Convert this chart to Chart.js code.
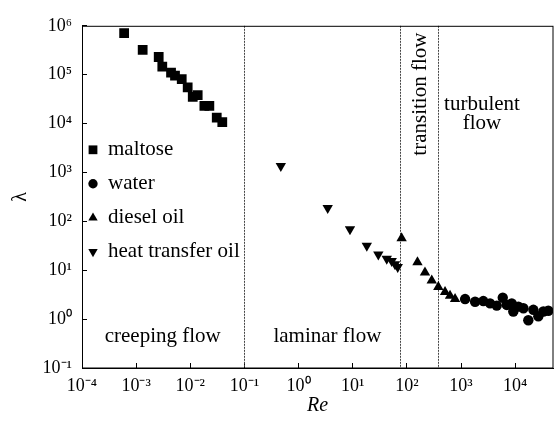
<!DOCTYPE html>
<html>
<head>
<meta charset="utf-8">
<script src="https://cdn.jsdelivr.net/npm/chart.js@4.4.1/dist/chart.umd.min.js"></script>
<style>
  body { margin: 0; background: #fff; }
  #wrap { width: 560px; height: 422px; }
</style>
</head>
<body>
<div id="wrap"><canvas id="myChart"></canvas></div>
<script>
// Re / lambda pairs
const maltoseRe = [6.0e-4, 1.32e-3, 2.61e-3, 3.04e-3, 4.41e-3, 5.22e-3, 6.95e-3, 8.95e-3, 1.11e-2, 1.37e-2, 1.82e-2, 2.25e-2, 3.08e-2, 3.9e-2];
const maltoseLambda = [7.1e5, 3.2e5, 2.3e5, 1.47e5, 1.1e5, 9.6e4, 8.1e4, 5.5e4, 3.5e4, 3.8e4, 2.3e4, 2.3e4, 1.33e4, 1.07e4];

const waterRe = [1190, 1820, 2580, 3440, 4570, 5900, 7000, 8650, 9250, 11500, 14200, 17500, 21700, 26800, 33200, 41000];
const waterLambda = [2.57, 2.27, 2.34, 2.10, 1.89, 2.73, 1.95, 2.10, 1.43, 1.80, 1.67, 0.95, 1.55, 1.14, 1.43, 1.48];

const dieselRe = [80, 157, 216, 288, 381, 507, 627, 776];
const dieselLambda = [44.9, 14.6, 9.0, 6.15, 4.52, 3.59, 2.99, 2.57];

const heatOilRe = [0.47, 3.45, 8.9, 18.2, 29.7, 42.5, 52.5, 60.4, 67.8];
const heatOilLambda = [1360, 187, 69, 31.6, 20.9, 17.1, 15.4, 13.2, 11.7];

const xTicks = [1e-4, 1e-3, 1e-2, 1e-1, 1, 10, 100, 1000, 1e4];
const yTicks = [1e-1, 1, 10, 100, 1000, 1e4, 1e5, 1e6];

// flow regime borders (Re) and their labels
const regimeBounds = [0.1, 76, 381];
const regimeLabels = [
  {text: 'creeping flow', x: 3.1e-3, y: 0.34},
  {text: 'laminar flow', x: 3.4, y: 0.34},
  {text: 'transition flow', x: 175, y: 4.0e4, rotate: true},
  {text: 'turbulent', x: 2440, y: 1.93e4},
  {text: 'flow', x: 2440, y: 7.8e3}
];

const supDigits = {'-': '\u207B', '0': '\u2070', '1': '\u00B9', '2': '\u00B2', '3': '\u00B3',
  '4': '\u2074', '5': '\u2075', '6': '\u2076', '7': '\u2077', '8': '\u2078', '9': '\u2079'};

function powLabel(v) {
  const e = String(Math.round(Math.log10(v)));
  return '10' + e.split('').map(c => supDigits[c]).join('');
}

function toPoints(xs, ys) {
  return xs.map((x, i) => ({x: x, y: ys[i]}));
}

const FONT = '"Liberation Serif", "Times New Roman", serif';
Chart.defaults.font.family = FONT;
Chart.defaults.color = '#000';

const extras = {
  id: 'extras',
  beforeDatasetsDraw(chart) {
    const {ctx, chartArea: a, scales: {x}} = chart;
    ctx.save();
    ctx.strokeStyle = '#444';
    ctx.lineWidth = 1;
    ctx.setLineDash([2, 1]);
    regimeBounds.forEach(v => {
      const px = Math.round(x.getPixelForValue(v)) + 0.5;
      ctx.beginPath();
      ctx.moveTo(px, a.top);
      ctx.lineTo(px, a.bottom);
      ctx.stroke();
    });
    ctx.restore();
  },
  afterDraw(chart) {
    const {ctx, chartArea: a, scales: {x, y}} = chart;
    ctx.save();
    // frame
    ctx.strokeStyle = '#000';
    ctx.lineWidth = 1;
    ctx.strokeRect(a.left + 0.5, a.top + 0.5, a.right - a.left - 0.5, a.bottom - a.top - 0.5);

    // regime labels
    ctx.fillStyle = '#000';
    ctx.font = '21px ' + FONT;
    ctx.textAlign = 'center';
    regimeLabels.forEach(l => {
      ctx.save();
      ctx.translate(x.getPixelForValue(l.x), y.getPixelForValue(l.y));
      if (l.rotate) {
        ctx.rotate(-Math.PI / 2);
        ctx.textBaseline = 'middle';
      } else {
        ctx.textBaseline = 'alphabetic';
      }
      ctx.fillText(l.text, 0, 0);
      ctx.restore();
    });

    // legend inside the plot
    chart.data.datasets.forEach((ds, i) => {
      const cx = a.left + 11;
      const cy = a.top + 124 + i * 34;
      ctx.fillStyle = '#000';
      Chart.helpers.drawPoint(ctx, {
        pointStyle: ds.pointStyle,
        rotation: ds.pointRotation || 0,
        radius: ds.pointRadius * 0.9,
        borderWidth: 0
      }, cx, cy);
      ctx.textAlign = 'left';
      ctx.textBaseline = 'middle';
      ctx.fillText(ds.label, cx + 15, cy);
    });
    ctx.restore();
  }
};

const ctx = document.getElementById('myChart').getContext('2d');
const chart = new Chart(ctx, {
  type: 'scatter',
  data: {
    datasets: [
      {label: 'maltose', data: toPoints(maltoseRe, maltoseLambda), pointStyle: 'rect', pointRadius: 6.9,
       backgroundColor: '#000', borderWidth: 0},
      {label: 'water', data: toPoints(waterRe, waterLambda), pointStyle: 'circle', pointRadius: 5.2,
       backgroundColor: '#000', borderWidth: 0},
      {label: 'diesel oil', data: toPoints(dieselRe, dieselLambda), pointStyle: 'triangle', pointRadius: 6,
       backgroundColor: '#000', borderWidth: 0},
      {label: 'heat transfer oil', data: toPoints(heatOilRe, heatOilLambda), pointStyle: 'triangle', pointRotation: 180,
       pointRadius: 6, backgroundColor: '#000', borderWidth: 0}
    ]
  },
  options: {
    responsive: true,
    maintainAspectRatio: false,
    animation: false,
    layout: {padding: {left: 0, right: 7, top: 17, bottom: 0}},
    plugins: {
      legend: {display: false},
      tooltip: {enabled: false}
    },
    scales: {
      x: {
        type: 'logarithmic',
        min: 1e-4,
        max: 5e4,
        afterBuildTicks: s => { s.ticks = xTicks.map(v => ({value: v})); },
        afterFit: s => { s.height = 54; },
        ticks: {callback: v => powLabel(v), font: {size: 18}, color: '#000', padding: 12,
                maxRotation: 0, autoSkip: false},
        grid: {display: true, drawOnChartArea: false, drawTicks: true, tickLength: -5, color: '#000'},
        border: {display: true, color: '#000', width: 1},
        title: {display: true, text: 'Re', font: {size: 20, style: 'italic'}, color: '#000',
                padding: {top: 0, bottom: 4}}
      },
      y: {
        type: 'logarithmic',
        min: 1e-1,
        max: 1e6,
        afterBuildTicks: s => { s.ticks = yTicks.map(v => ({value: v})); },
        afterFit: s => { s.width = 82; },
        ticks: {callback: v => powLabel(v), font: {size: 18}, color: '#000', padding: 15, autoSkip: false},
        grid: {display: true, drawOnChartArea: false, drawTicks: true, tickLength: -5, color: '#000'},
        border: {display: true, color: '#000', width: 1},
        title: {display: true, text: '\u03BB', font: {size: 20}, color: '#000', padding: {top: 9, bottom: 0}}
      }
    }
  },
  plugins: [extras]
});
</script>
</body>
</html>
